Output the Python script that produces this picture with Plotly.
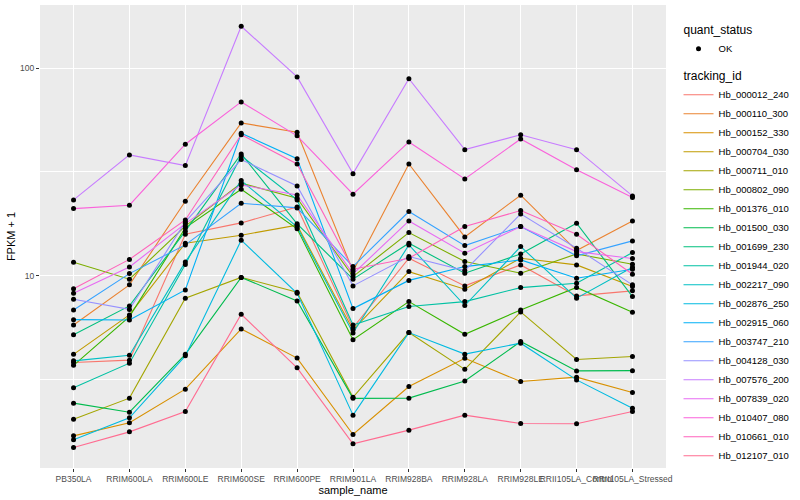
import plotly.graph_objects as go

samples = ["PB350LA", "RRIM600LA", "RRIM600LE", "RRIM600SE", "RRIM600PE", "RRIM901LA",
           "RRIM928BA", "RRIM928LA", "RRIM928LE", "RRII105LA_Control", "RRII105LA_Stressed"]

tracking_ids = ["Hb_000012_240", "Hb_000110_300", "Hb_000152_330", "Hb_000704_030", "Hb_000711_010",
                "Hb_000802_090", "Hb_001376_010", "Hb_001500_030", "Hb_001699_230", "Hb_001944_020",
                "Hb_002217_090", "Hb_002876_250", "Hb_002915_060", "Hb_003747_210", "Hb_004128_030",
                "Hb_007576_200", "Hb_007839_020", "Hb_010407_080", "Hb_010661_010", "Hb_012107_010"]

# FPKM + 1 values, one list per gene, in sample order
hb_000012_240 = [3.81, 3.91, 15.83, 17.95, 21.44, 5.60, 12.13, 8.92, 11.26, 7.98, 8.44]
hb_000110_300 = [5.78, 9.02, 22.84, 54.47, 49.13, 10.50, 34.56, 15.37, 24.41, 13.20, 18.35]
hb_000152_330 = [1.687, 1.949, 2.834, 5.53, 4.00, 1.712, 2.916, 3.99, 3.083, 3.237, 2.729]
hb_000704_030 = [4.17, 6.46, 14.33, 15.66, 17.50, 5.47, 10.45, 8.60, 12.13, 11.26, 8.85]
hb_000711_010 = [2.030, 2.564, 7.78, 9.80, 8.32, 2.587, 5.31, 3.53, 6.68, 3.94, 4.07]
hb_000802_090 = [11.60, 9.61, 17.31, 27.90, 23.62, 9.89, 16.12, 11.68, 10.27, 12.72, 11.35]
hb_001376_010 = [3.69, 6.34, 16.98, 26.10, 16.80, 4.91, 7.49, 5.21, 6.83, 8.77, 6.66]
hb_001500_030 = [2.425, 2.194, 4.17, 9.80, 7.55, 2.558, 2.564, 3.10, 4.81, 3.47, 3.48]
hb_001699_230 = [5.18, 7.14, 16.37, 38.62, 17.76, 9.61, 14.33, 10.27, 12.72, 17.89, 7.92]
hb_001944_020 = [2.874, 3.78, 11.32, 37.77, 23.17, 5.78, 7.09, 7.49, 8.75, 9.19, 12.91]
hb_002217_090 = [3.88, 4.13, 11.64, 28.71, 17.17, 5.29, 14.06, 7.17, 13.80, 7.78, 10.98]
hb_002876_250 = [1.614, 2.060, 4.10, 14.82, 8.21, 2.123, 5.31, 4.18, 4.72, 3.14, 2.294]
hb_002915_060 = [6.13, 6.11, 8.53, 48.6, 36.65, 6.93, 9.48, 11.05, 11.90, 9.71, 10.73]
hb_003747_210 = [6.83, 10.22, 14.06, 22.34, 21.21, 11.05, 20.36, 13.95, 17.23, 12.45, 14.70]
hb_004128_030 = [7.69, 6.87, 18.15, 36.25, 27.07, 8.92, 12.35, 10.57, 19.84, 13.56, 9.02]
hb_007576_200 = [23.17, 38.19, 33.92, 159.4, 90.8, 31.02, 89.1, 40.5, 47.8, 40.5, 24.23]
hb_007839_020 = [8.21, 11.01, 17.81, 27.37, 24.50, 10.19, 18.35, 12.82, 17.23, 13.05, 12.08]
hb_010407_080 = [21.04, 21.85, 43.0, 68.8, 47.2, 24.69, 44.1, 29.26, 45.6, 32.4, 23.78]
hb_010661_010 = [8.63, 11.97, 18.55, 47.8, 34.56, 10.73, 12.13, 17.23, 20.58, 15.83, 10.15]
hb_012107_010 = [1.481, 1.763, 2.209, 6.51, 3.59, 1.543, 1.797, 2.123, 1.934, 1.928, 2.209]

series = [hb_000012_240, hb_000110_300, hb_000152_330, hb_000704_030, hb_000711_010,
          hb_000802_090, hb_001376_010, hb_001500_030, hb_001699_230, hb_001944_020,
          hb_002217_090, hb_002876_250, hb_002915_060, hb_003747_210, hb_004128_030,
          hb_007576_200, hb_007839_020, hb_010407_080, hb_010661_010, hb_012107_010]

colors = ["#F8766D", "#EA8331", "#D89000", "#C09B00", "#A3A500", "#7CAE00", "#39B600", "#00BB4E",
          "#00BF7D", "#00C1A3", "#00BFC4", "#00BAE0", "#00B0F6", "#35A2FF", "#9590FF", "#C77CFF",
          "#E76BF3", "#FA62DB", "#FF62BC", "#FF6C91"]

FONT = "Liberation Sans, Arial, sans-serif"
fig = go.Figure()

for i, (tid, vals) in enumerate(zip(tracking_ids, series)):
    fig.add_trace(go.Scatter(
        x=samples, y=vals, mode="lines", name=tid,
        line=dict(color=colors[i], width=1.1),
        legendgroup="tid",
        legendgrouptitle=dict(text="tracking_id", font=dict(size=12, color="black")) if i == 0 else None,
        legendrank=2 + i,
    ))

# points (quant_status legend), drawn on top of the lines
px, py = [], []
for vals in series:
    px += samples
    py += vals
fig.add_trace(go.Scatter(
    x=px, y=py, mode="markers", name="OK",
    marker=dict(color="black", size=5, symbol="circle"),
    legendgroup="qs", legendgrouptitle=dict(text="quant_status", font=dict(size=12, color="black")),
    legendrank=1,
))

fig.update_layout(
    width=800, height=500,
    margin=dict(l=40, r=116, t=5, b=32),
    paper_bgcolor="white", plot_bgcolor="#EBEBEB",
    font=dict(family=FONT, size=9, color="#4D4D4D"),
    showlegend=True,
    legend=dict(x=1.02, xanchor="left", y=0.978, yanchor="top",
                font=dict(size=9.5, color="black"), tracegroupgap=8, itemwidth=30,
                traceorder="grouped", bgcolor="rgba(0,0,0,0)"),
)
fig.update_xaxes(
    type="category", categoryorder="array", categoryarray=samples,
    range=[-0.6, 10.6], showgrid=True, gridcolor="white", gridwidth=1.1,
    ticks="outside", ticklen=3, tickcolor="#333333", tickangle=0,
    tickfont=dict(size=8.5, color="#4D4D4D"), zeroline=False, showline=False,
    title=dict(text="sample_name", font=dict(size=11, color="black"), standoff=3),
)
fig.update_yaxes(
    type="log", range=[0.072, 2.305],
    tickmode="array", tickvals=[10, 100], ticktext=["10", "100"],
    showgrid=True, gridcolor="white", gridwidth=1.1,
    minor=dict(tickmode="array", tickvals=[3.1623, 31.623], showgrid=True, gridcolor="white",
               gridwidth=0.5, ticks=""),
    ticks="outside", ticklen=3, tickcolor="#333333",
    tickfont=dict(size=8.5, color="#4D4D4D"), zeroline=False, showline=False,
    title=dict(text="FPKM + 1", font=dict(size=11, color="black"), standoff=2),
)

fig.write_html("out.html", config={"displayModeBar": False},
               post_script="document.body.style.margin='0';")
